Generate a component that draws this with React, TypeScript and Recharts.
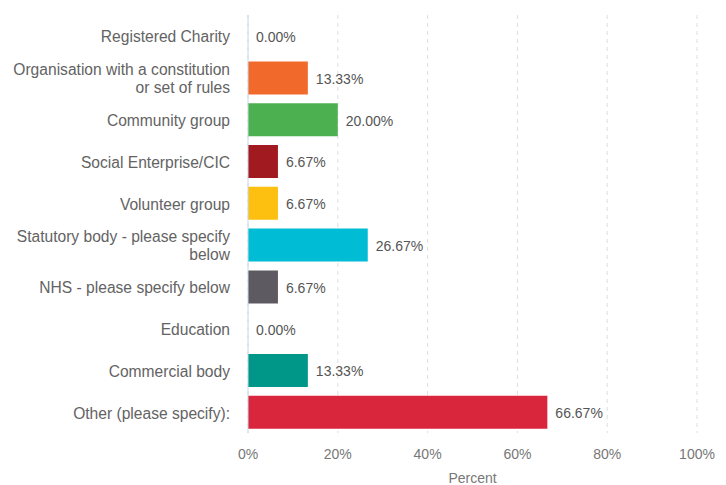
import React from 'react';
import { BarChart, Bar, XAxis, YAxis, CartesianGrid, Cell, LabelList } from 'recharts';

const categories = [
  'Registered Charity',
  'Organisation with a constitution or set of rules',
  'Community group',
  'Social Enterprise/CIC',
  'Volunteer group',
  'Statutory body - please specify below',
  'NHS - please specify below',
  'Education',
  'Commercial body',
  'Other (please specify):',
];
const percents = [0, 13.33, 20, 6.67, 6.67, 26.67, 6.67, 0, 13.33, 66.67];
const colors = ['#f26a2b', '#f26a2b', '#4caf50', '#a01a1f', '#fdc010', '#00bcd4', '#5e5a61', '#f26a2b', '#009688', '#d9263d'];
const xTicks = [0, 20, 40, 60, 80, 100];

const data = categories.map((name, i) => ({ name, value: percents[i] }));

function wrap(label: string, maxChars: number): string[] {
  const words = label.split(' ');
  const lines: string[] = [];
  let cur = '';
  for (const w of words) {
    const next = cur ? cur + ' ' + w : w;
    if (next.length > maxChars && cur) {
      lines.push(cur);
      cur = w;
    } else {
      cur = next;
    }
  }
  if (cur) lines.push(cur);
  return lines;
}

const FONT = "'Liberation Sans', Arial, sans-serif";

const YTick = (props: any) => {
  const { x, y, payload } = props;
  const lines = wrap(String(payload.value), 32);
  const lh = 18;
  const start = -((lines.length - 1) * lh) / 2;
  return (
    <text x={x} y={y + 1} textAnchor="end" fill="#636363" fontSize={15.6} fontFamily={FONT}>
      {lines.map((l, i) => (
        <tspan key={i} x={x} dy={i === 0 ? start : lh} dominantBaseline="central">
          {l}
        </tspan>
      ))}
    </text>
  );
};

const ValueLabel = (props: any) => {
  const { x, y, width, height, value } = props;
  return (
    <text
      x={Number(x) + Number(width || 0) + 8}
      y={Number(y) + Number(height) / 2 + 1}
      fill="#555"
      fontSize={14}
      fontFamily={FONT}
      dominantBaseline="central"
    >
      {`${Number(value).toFixed(2)}%`}
    </text>
  );
};

export default function App() {
  return (
    <div style={{ width: 726, height: 485 }}>
      <style>{`body{margin:0}`}</style>
      <BarChart
        width={726}
        height={485}
        data={data}
        layout="vertical"
        margin={{ top: 15, right: 29, left: 0, bottom: 0 }}
        barCategoryGap="11%"
        style={{ fontFamily: FONT }}
      >
        <CartesianGrid horizontal={false} stroke="#dedede" strokeDasharray="4 4" />
        <XAxis
          type="number"
          domain={[0, 100]}
          ticks={xTicks}
          tickFormatter={(v: number) => `${v}%`}
          axisLine={false}
          tickLine={false}
          tickMargin={10}
          height={52}
          tick={{ fill: '#777', fontSize: 14 }}
          label={{ value: 'Percent', position: 'insideBottom', offset: 2, fill: '#777', fontSize: 14 }}
        />
        <YAxis
          type="category"
          dataKey="name"
          width={248}
          axisLine={{ stroke: '#c8d8e8' }}
          tickLine={false}
          tickSize={0}
          tickMargin={18}
          tick={<YTick />}
          interval={0}
        />
        <Bar
          dataKey="value"
          isAnimationActive={false}
          minPointSize={(v: any) => (Number(v) === 0 ? 0.01 : 0)}
        >
          {data.map((d, i) => (
            <Cell key={d.name} fill={colors[i]} />
          ))}
          <LabelList dataKey="value" content={<ValueLabel />} />
        </Bar>
      </BarChart>
    </div>
  );
}
